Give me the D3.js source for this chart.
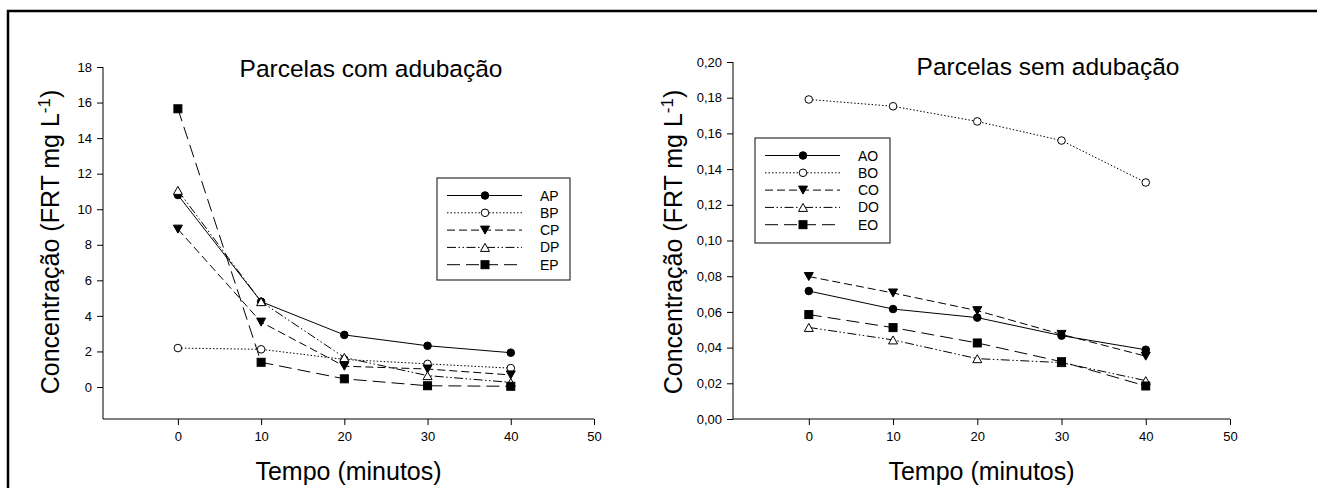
<!DOCTYPE html>
<html>
<head>
<meta charset="utf-8">
<script src="https://cdn.jsdelivr.net/npm/d3@7"></script>
<style>
body { margin: 0; background: #fff; }
svg { font-family: Arial, 'Liberation Sans', sans-serif; }
</style>
</head>
<body>
<div class="chart"></div>
<script>
// dados
const tempos = [0, 10, 20, 30, 40];
const xTicks = [0, 10, 20, 30, 40, 50];

const nomesP = ['AP', 'BP', 'CP', 'DP', 'EP'];
const AP = [10.8, 4.8, 2.93, 2.32, 1.93];
const BP = [2.19, 2.12, 1.55, 1.3, 1.06];
const CP = [8.88, 3.65, 1.17, 1.01, 0.68];
const DP = [11.06, 4.8, 1.66, 0.64, 0.26];
const EP = [15.65, 1.39, 0.46, 0.07, 0.04];
const yTicksP = [0, 2, 4, 6, 8, 10, 12, 14, 16, 18];
const yLabelsP = ['0', '2', '4', '6', '8', '10', '12', '14', '16', '18'];

const nomesO = ['AO', 'BO', 'CO', 'DO', 'EO'];
const AO = [0.0717, 0.0616, 0.0568, 0.0467, 0.0388];
const BO = [0.179, 0.1752, 0.1667, 0.156, 0.1325];
const CO = [0.0798, 0.0706, 0.0607, 0.0474, 0.0352];
const DO = [0.0513, 0.0443, 0.0338, 0.0316, 0.0215];
const EO = [0.0585, 0.0512, 0.0426, 0.0321, 0.0185];
const yTicksO = [0, 0.02, 0.04, 0.06, 0.08, 0.10, 0.12, 0.14, 0.16, 0.18, 0.20];
const yLabelsO = ['0,00', '0,02', '0,04', '0,06', '0,08', '0,10', '0,12', '0,14', '0,16', '0,18', '0,20'];

// estilos das series (linha + marcador)
const estilos = [
    {dash: null, marker: 'circle', fill: '#000'},
    {dash: '1.5,2', marker: 'circle', fill: '#fff'},
    {dash: '8,4', marker: 'down', fill: '#000'},
    {dash: '9,2.5,1.5,2.5,1.5,2.5', marker: 'up', fill: '#fff'},
    {dash: '13,6', marker: 'square', fill: '#000'}
];

const width = 1317;
const height = 488;
const svg = d3.select('.chart')
                .append('svg')
                .attr('width', width)
                .attr('height', height);

// moldura
svg.append('path')
    .attr('d', 'M8,' + height + ' V11 H' + width)
    .attr('fill', 'none')
    .attr('stroke', '#000')
    .attr('stroke-width', 2.5);

function drawMarker(g, tipo, fill, x, y) {
    if (tipo === 'circle') {
        g.append('circle').attr('cx', x).attr('cy', y).attr('r', 3.8)
            .attr('fill', fill).attr('stroke', '#000').attr('stroke-width', 1);
    } else if (tipo === 'square') {
        g.append('rect').attr('x', x - 4).attr('y', y - 4).attr('width', 8).attr('height', 8)
            .attr('fill', fill).attr('stroke', '#000').attr('stroke-width', 1);
    } else {
        const s = tipo === 'down' ? 1 : -1;
        g.append('path')
            .attr('d', 'M' + (x - 4.5) + ',' + (y - 4 * s) + ' L' + (x + 4.5) + ',' + (y - 4 * s) + ' L' + x + ',' + (y + 4 * s) + 'Z')
            .attr('fill', fill).attr('stroke', '#000').attr('stroke-width', 1);
    }
}

function drawPanel(cfg) {
    const xScale = d3.scaleLinear()
                    .domain([-9, 50])
                    .range(cfg.xRange);
    const yScale = d3.scaleLinear()
                    .domain(cfg.yDomain)
                    .range(cfg.yRange);

    const xAxis = d3.axisBottom(xScale)
                    .tickValues(xTicks)
                    .tickSize(6)
                    .tickPadding(7)
                    .tickFormat(d3.format('d'));
    const yAxis = d3.axisLeft(yScale)
                    .tickValues(cfg.yTicks)
                    .tickSize(6)
                    .tickPadding(5)
                    .tickFormat((d, i) => cfg.yLabels[i]);

    const gx = svg.append('g')
        .attr('class', 'axis x-axis')
        .attr('transform', 'translate(0,' + cfg.yRange[0] + ')')
        .call(xAxis);
    const gy = svg.append('g')
        .attr('class', 'axis y-axis')
        .attr('transform', 'translate(' + cfg.xRange[0] + ',0)')
        .call(yAxis);
    [gx, gy].forEach(g => {
        g.select('.domain').attr('d', null);
        g.selectAll('text').attr('font-size', 13).attr('font-family', 'Arial, Liberation Sans, sans-serif').attr('fill', '#000');
        g.selectAll('line').attr('stroke', '#000');
    });
    svg.append('line')
        .attr('x1', cfg.xRange[0]).attr('x2', cfg.xRange[1])
        .attr('y1', cfg.yRange[0]).attr('y2', cfg.yRange[0])
        .attr('stroke', '#000');
    svg.append('line')
        .attr('x1', cfg.xRange[0]).attr('x2', cfg.xRange[0])
        .attr('y1', cfg.yRange[0]).attr('y2', yScale(cfg.yTicks[cfg.yTicks.length - 1]))
        .attr('stroke', '#000');

    const line = d3.line()
                    .x((d, i) => xScale(tempos[i]))
                    .y(d => yScale(d));

    cfg.series.forEach((vals, k) => {
        const st = estilos[k];
        svg.append('path')
            .attr('d', line(vals))
            .attr('fill', 'none')
            .attr('stroke', '#000')
            .attr('stroke-width', 1)
            .attr('stroke-dasharray', st.dash);
    });
    cfg.series.forEach((vals, k) => {
        const st = estilos[k];
        const g = svg.append('g');
        vals.forEach((v, i) => drawMarker(g, st.marker, st.fill, xScale(tempos[i]), yScale(v)));
    });

    // legenda
    const lg = cfg.legend;
    svg.append('rect')
        .attr('x', lg.x).attr('y', lg.y)
        .attr('width', lg.w).attr('height', lg.h)
        .attr('fill', '#fff')
        .attr('stroke', '#333')
        .attr('stroke-width', 1.2);
    cfg.nomes.forEach((nome, k) => {
        const st = estilos[k];
        const y = lg.y + 17.5 + k * 17.3;
        svg.append('line')
            .attr('x1', lg.x + 10).attr('x2', lg.x + 85)
            .attr('y1', y).attr('y2', y)
            .attr('stroke', '#000')
            .attr('stroke-dasharray', st.dash);
        drawMarker(svg.append('g'), st.marker, st.fill, lg.x + 48, y);
        svg.append('text')
            .attr('x', lg.x + 103).attr('y', y + 5)
            .attr('font-size', 14)
            .text(nome);
    });

    svg.append('text')
        .attr('x', cfg.title[0]).attr('y', cfg.title[1])
        .attr('text-anchor', 'middle')
        .attr('font-size', 24.5)
        .text(cfg.titulo);

    svg.append('text')
        .attr('x', (cfg.xRange[0] + cfg.xRange[1]) / 2).attr('y', 480)
        .attr('text-anchor', 'middle')
        .attr('font-size', 25)
        .text('Tempo (minutos)');

    const yl = svg.append('text')
        .attr('transform', 'translate(' + cfg.yLabelX + ',242) rotate(-90)')
        .attr('text-anchor', 'middle')
        .attr('font-size', 25);
    yl.append('tspan').text('Concentração (FRT mg L');
    yl.append('tspan').attr('font-size', 17).attr('dy', -9).text('-1');
    yl.append('tspan').attr('dy', 9).text(')');
}

drawPanel({
    xRange: [103, 594],
    yDomain: [-1.8, 18],
    yRange: [419, 67],
    yTicks: yTicksP,
    yLabels: yLabelsP,
    series: [AP, BP, CP, DP, EP],
    nomes: nomesP,
    legend: {x: 437, y: 178, w: 133, h: 102},
    titulo: 'Parcelas com adubação',
    title: [371, 77],
    yLabelX: 59
});

drawPanel({
    xRange: [733, 1230],
    yDomain: [0, 0.2],
    yRange: [419, 62],
    yTicks: yTicksO,
    yLabels: yLabelsO,
    series: [AO, BO, CO, DO, EO],
    nomes: nomesO,
    legend: {x: 755, y: 138, w: 135, h: 105},
    titulo: 'Parcelas sem adubação',
    title: [1048, 75],
    yLabelX: 682
});
</script>
</body>
</html>
